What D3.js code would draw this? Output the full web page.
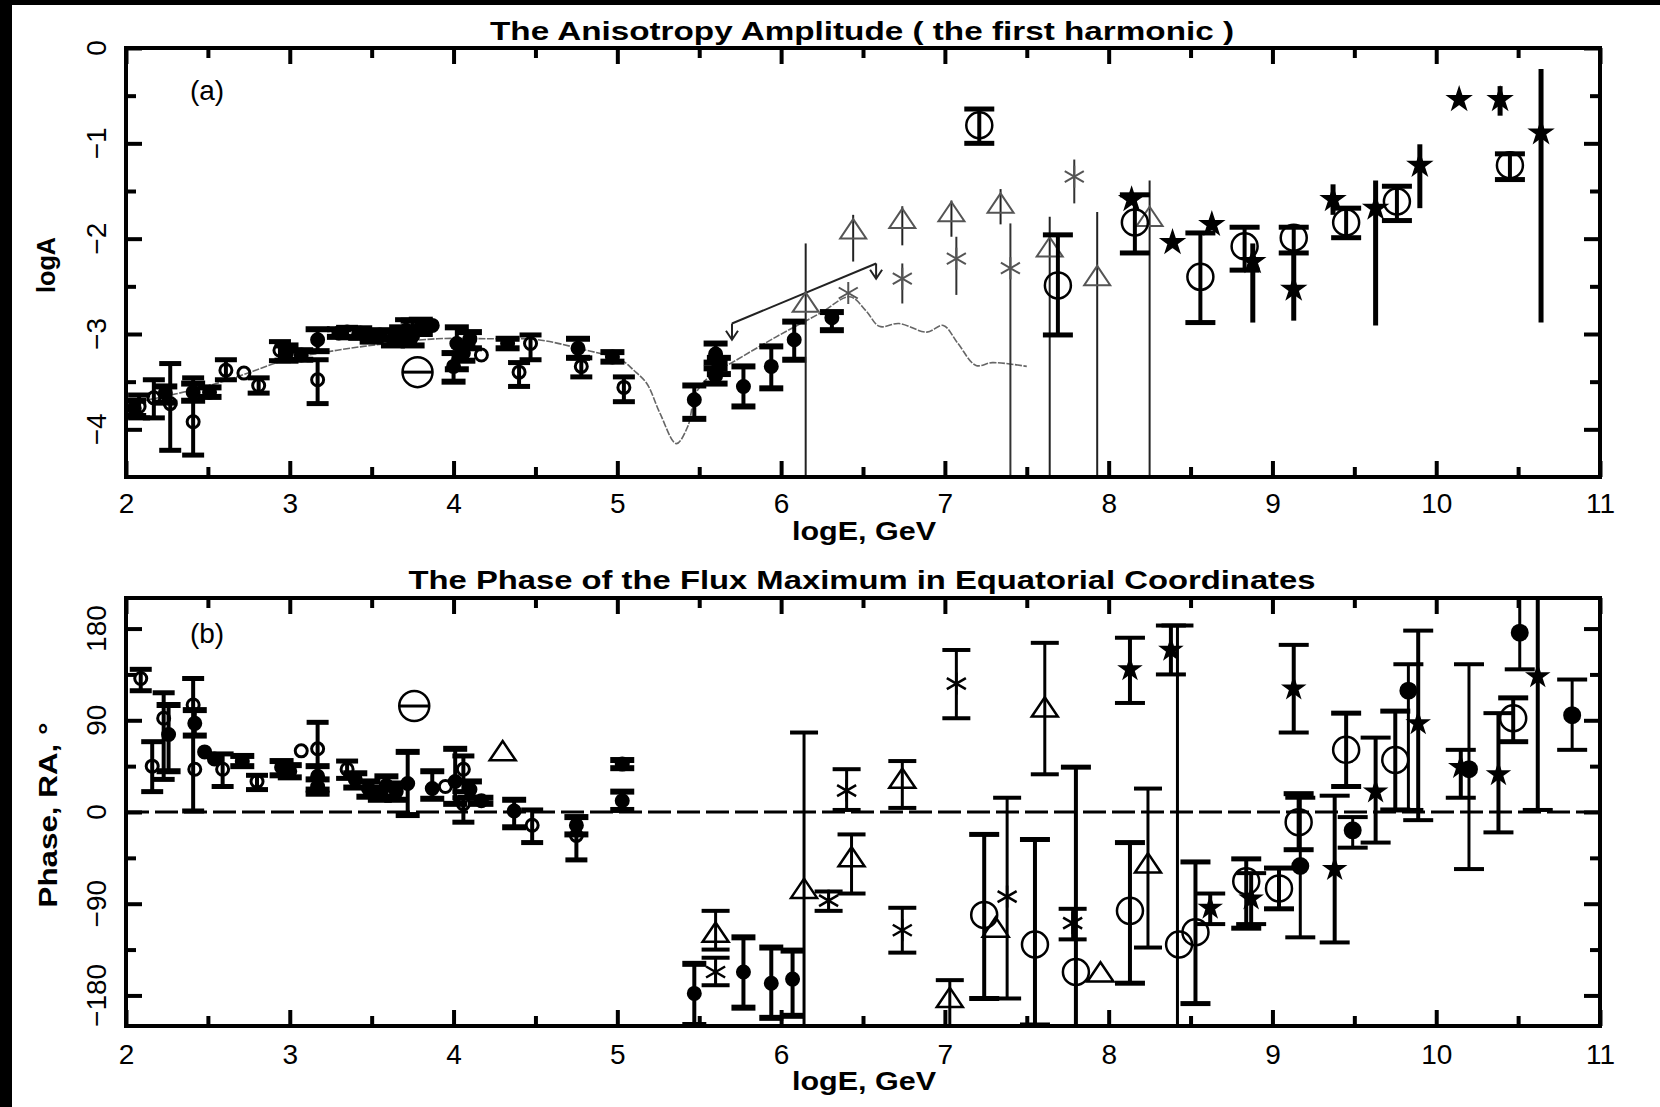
<!DOCTYPE html>
<html><head><meta charset="utf-8">
<script src="https://cdn.jsdelivr.net/npm/d3@7"></script>
<style>body{margin:0;background:#fff;}svg{display:block;}text{font-family:"Liberation Sans",Arial,sans-serif;fill:#000;}</style>
</head><body><svg id="c" width="1660" height="1107"></svg>
<script>
// ---------- axis ticks ----------
const xMajor=[2,3,4,5,6,7,8,9,10,11];
const xMinor=[2.5,3.5,4.5,5.5,6.5,7.5,8.5,9.5,10.5];
const aYMajor=[-4,-3,-2,-1,0];
const aYMinor=[-3.5,-2.5,-1.5,-0.5];
const aYLabels=["−4","−3","−2","−1","0"];
const bYMajor=[-180,-90,0,90,180];
const bYMinor=[-135,-45,45,135];
const bYLabels=["−180","−90","0","90","180"];

// ---------- panel (a): logA vs logE  [logE, logA, upper, lower] ----------
const aSmallOpen=[
 [2.08,-3.76,-3.64,-3.88],[2.17,-3.67,-3.48,-3.88],[2.27,-3.73,-3.31,-4.22],
 [2.41,-3.92,-3.46,-4.27],[2.61,-3.38,-3.27,-3.48],[2.72,-3.41,null,null],
 [2.81,-3.54,-3.46,-3.62],[2.94,-3.17,-3.08,-3.28],[3.17,-3.48,-3.27,-3.73],
 [3.35,-2.98,-2.93,-3.04],[3.71,-2.96,-2.85,-3.10],[4.17,-3.22,null,null],
 [4.47,-3.10,-3.01,-3.27],[4.40,-3.40,-3.30,-3.55],[4.78,-3.34,-3.25,-3.45],
 [5.04,-3.56,-3.45,-3.71]
];
const aSmallFilled=[
 [2.05,-3.78,-3.70,-3.86],[2.24,-3.62,-3.55,-3.72],[2.41,-3.61,-3.52,-3.70],
 [2.51,-3.61,-3.56,-3.66],[2.98,-3.20,-3.12,-3.28],[3.07,-3.22,-3.17,-3.27],
 [3.17,-3.06,-2.95,-3.18],[3.30,-2.99,-2.95,-3.03],[3.43,-2.99,-2.94,-3.04],
 [3.50,-3.02,-2.97,-3.08],[3.55,-3.01,-2.96,-3.06],[3.63,-3.05,-2.97,-3.12],
 [3.68,-3.00,-2.93,-3.08],[3.75,-3.02,-2.86,-3.12],[3.80,-2.93,-2.85,-3.00],
 [3.87,-2.91,null,null],
 [4.02,-3.10,-2.93,-3.37],[4.00,-3.34,-3.20,-3.50],[4.10,-3.05,-2.98,-3.15],
 [4.06,-3.20,-3.12,-3.28],
 [4.33,-3.10,-3.05,-3.15],[4.76,-3.15,-3.05,-3.25],[4.97,-3.24,-3.19,-3.29],
 [5.47,-3.69,-3.54,-3.89],[5.60,-3.21,-3.10,-3.30],[5.62,-3.33,-3.25,-3.42],
 [5.60,-3.44,-3.36,-3.52],[5.77,-3.55,-3.34,-3.76],[5.94,-3.34,-3.13,-3.57],
 [6.08,-3.06,-2.87,-3.27],[6.31,-2.83,-2.77,-2.96]
];
const aBigOpen=[
 [7.21,-0.81,-0.64,-1.00],[7.69,-2.49,-1.96,-3.01],[8.16,-1.83,-1.54,-2.15],
 [8.56,-2.40,-1.94,-2.88],[8.83,-2.08,-1.88,-2.33],[9.13,-1.99,-1.88,-2.15],
 [9.45,-1.83,-1.68,-1.99],[9.76,-1.61,-1.45,-1.81],[10.45,-1.23,-1.11,-1.38]
];
const aThetaCircle=[[3.78,-3.40]];
const aStar=[
 [8.14,-1.59,null,null],[8.39,-2.04,null,null],[8.63,-1.85,null,null],
 [8.88,-2.24,-2.05,-2.88],[9.13,-2.53,-2.13,-2.86],[9.37,-1.59,-1.43,-1.75],
 [9.63,-1.68,-1.39,-2.91],[9.90,-1.23,-1.01,-1.68],[10.14,-0.54,null,null],
 [10.39,-0.54,-0.40,-0.71],[10.64,-0.89,-0.22,-2.88]
];
const aTriangle=[
 [6.15,-2.70,-2.05,-4.5],[6.44,-1.93,-1.75,-2.24],[6.74,-1.82,-1.66,-2.07],
 [7.04,-1.75,-1.60,-1.98],[7.34,-1.66,-1.48,-1.85],[7.64,-2.12,-1.77,-4.5],
 [7.93,-2.42,-1.72,-4.5],[8.25,-1.80,-1.39,-4.5]
];
const aAsterisk=[
 [6.41,-2.57,null,null],[6.74,-2.42,-2.26,-2.68],[7.07,-2.21,-1.98,-2.59],
 [7.40,-2.31,-1.84,-4.5],[7.79,-1.35,-1.17,-1.63]
];
// upper-limit line: [logE, logA, arrow tip]
const aLimit=[[5.70,-2.89,-3.06],[6.58,-2.26,-2.42]];
const aCurve=[
 [2.02,-3.73],[2.30,-3.63],[2.55,-3.52],[2.76,-3.40],[2.98,-3.27],[3.29,-3.17],
 [3.59,-3.10],[3.90,-3.05],[4.20,-3.05],[4.51,-3.06],[4.81,-3.17],[5.02,-3.27],
 [5.10,-3.38],[5.18,-3.52],[5.26,-3.83],[5.36,-4.15],[5.43,-3.97],[5.48,-3.62],
 [5.58,-3.42],[5.71,-3.29],[5.97,-3.03],[6.24,-2.78],[6.42,-2.61],[6.52,-2.76],
 [6.60,-2.92],[6.72,-2.89],[6.89,-2.98],[6.99,-2.91],[7.08,-3.10],[7.19,-3.33],
 [7.29,-3.30],[7.50,-3.34]
];

// ---------- panel (b): phase vs logE  [logE, phase, upper, lower] ----------
const bSmallOpen=[
 [2.09,131,140,119],[2.16,45,69,20],[2.23,92,117,32],[2.41,105,131,1],
 [2.42,42,null,null],[2.59,42,57,25],[2.80,30,36,22],[3.07,60,null,null],
 [3.17,62,88,18],[3.35,42,50,33],[3.95,25,null,null],[4.06,42,55,20],
 [4.06,8,14,-10],[4.48,-13,2,-30],[4.75,-23,-5,-47]
];
const bSmallFilled=[
 [2.26,76,105,40],[2.42,87,100,75],[2.48,59,null,null],[2.54,52,null,null],
 [2.71,50,55,45],[2.95,44,50,36],[3.00,40,46,34],[3.17,35,45,22],
 [3.17,25,32,18],[3.40,32,38,24],[3.48,23,30,15],[3.55,18,24,12],
 [3.59,26,35,15],[3.65,20,28,12],[3.72,28,59,-3],[3.87,23,40,13],
 [4.01,30,62,8],[4.10,22,30,14],[4.17,11,14,8],[4.37,1,12,-15],
 [4.75,-13,-5,-22],[5.03,47,51,43],[5.03,11,20,2],[5.47,-178,-149,-209],
 [5.77,-157,-123,-192],[5.94,-168,-133,-202],[6.07,-164,-136,-200]
];
const bBigOpen=[
 [7.24,-101,-22,-183],[7.55,-130,-27,-209],[7.80,-157,44,-210],
 [8.13,-97,-30,-168],[8.43,-130,null,null],[8.53,-118,-49,-188],
 [8.84,-68,-46,-114],[9.04,-75,-55,-95],[9.16,-10,18,-37],
 [9.45,61,97,25],[9.75,51,99,2],[10.47,92,112,69]
];
const bThetaCircle=[[3.76,104]];
const bTriangle=[
 [4.30,57,null,null],[5.60,-121,-97,-135],[6.14,-78,78,-210],
 [6.43,-47,-22,-80],[6.74,30,50,4],[7.03,-185,-165,-210],
 [7.31,-116,null,null],[7.61,100,166,37],[7.95,-160,null,null],
 [8.24,-53,23,-133]
];
const bAsterisk=[
 [5.60,-157,-143,-170],[6.29,-87,-78,-97],[6.40,21,42,2],
 [6.74,-116,-94,-138],[7.07,126,159,92],[7.38,-83,14,-183],
 [7.78,-109,-95,-125]
];
const bStar=[
 [8.13,140,171,107],[8.38,159,183,135],[8.62,-94,-80,-110],
 [8.87,-85,-60,-110],[9.13,121,164,78],[9.38,-56,16,-128],
 [9.63,20,73,-30],[9.89,87,178,-8],[10.15,44,61,14],
 [10.38,37,97,-20],[10.62,133,210,2]
];
const bDot=[
 [9.17,-53,14,-123],[9.49,-18,-5,-35],[9.83,119,145,2],
 [10.20,42,145,-56],[10.51,176,210,140],[10.83,95,130,61]
];
const bThinBars=[[8.42,183,-210]];
const bZero=[0];

// ---------- layout ----------
const svg=d3.select("#c");
svg.append("rect").attr("width",1660).attr("height",1107).attr("fill","#fff");
svg.append("rect").attr("x",0).attr("y",0).attr("width",12).attr("height",1107).attr("fill","#000");
svg.append("rect").attr("x",0).attr("y",0).attr("width",1660).attr("height",5).attr("fill","#000");

const x=d3.scaleLinear().domain([2,11]).range([126,1600]);
const ya=d3.scaleLinear().domain([-4.5,0]).range([477,48]);
const yb=d3.scaleLinear().domain([-210,210]).range([1026,598]);

const GRAY="#555";

function frameAxes(y,yMaj,yMin,yLab,labelPad){
  const [y0,y1]=y.range();
  const g=svg.append("g");
  const ax=[
    [d3.axisBottom(x).tickValues(xMajor).tickSizeInner(-16),y0],
    [d3.axisBottom(x).tickValues(xMinor).tickSizeInner(-10).tickFormat(""),y0],
    [d3.axisTop(x).tickValues(xMajor).tickSizeInner(-16).tickFormat(""),y1],
    [d3.axisTop(x).tickValues(xMinor).tickSizeInner(-10).tickFormat(""),y1]
  ];
  ax.forEach(([a,ty])=>{
    const s=g.append("g").attr("transform",`translate(0,${ty})`).call(a.tickSizeOuter(0).tickPadding(labelPad));
    s.select(".domain").remove();
    s.selectAll("line").attr("stroke","#000").attr("stroke-width",4);
    s.selectAll("text").attr("font-size",28).attr("font-family","Liberation Sans, Arial, sans-serif").attr("fill","#000");
  });
  const yax=[
    [d3.axisLeft(y).tickValues(yMaj).tickSizeInner(-16),126],
    [d3.axisLeft(y).tickValues(yMin).tickSizeInner(-10),126],
    [d3.axisRight(y).tickValues(yMaj).tickSizeInner(-16),1600],
    [d3.axisRight(y).tickValues(yMin).tickSizeInner(-10),1600]
  ];
  yax.forEach(([a,tx])=>{
    const s=g.append("g").attr("transform",`translate(${tx},0)`).call(a.tickSizeOuter(0).tickFormat(""));
    s.select(".domain").remove();
    s.selectAll("line").attr("stroke","#000").attr("stroke-width",4);
  });
  yMaj.forEach((v,i)=>{
    g.append("text").attr("transform",`translate(96,${y(v)}) rotate(-90)`)
      .attr("text-anchor","middle").attr("dominant-baseline","central")
      .attr("font-size",28).text(yLab[i]);
  });
  svg.append("rect").attr("x",126).attr("y",y1).attr("width",1600-126).attr("height",y0-y1)
    .attr("fill","none").attr("stroke","#000").attr("stroke-width",4);
}

function bars(g,data,y,o){
  const [dmin,dmax]=y.domain();
  data.forEach(d=>{
    if(d[2]==null) return;
    const cx=x(d[0]);
    g.append("line").attr("x1",cx).attr("x2",cx).attr("y1",y(Math.min(d[2],dmax))).attr("y2",y(Math.max(d[3],dmin)))
      .attr("stroke",o.color).attr("stroke-width",o.bw);
    if(o.cap){
      [d[2],d[3]].forEach(v=>{
        if(v<=dmin||v>=dmax) return;
        g.append("line").attr("x1",cx-o.cap/2).attr("x2",cx+o.cap/2).attr("y1",y(v)).attr("y2",y(v))
          .attr("stroke",o.color).attr("stroke-width",o.cw||4);
      });
    }
  });
}

function markers(g,data,y,type,o){
  data.forEach(d=>{
    const cx=x(d[0]),cy=y(d[1]);
    const c=o.color||"#000";
    if(type==="circle"){
      g.append("circle").attr("cx",cx).attr("cy",cy).attr("r",o.r)
        .attr("fill",o.fill?c:"none").attr("stroke",c).attr("stroke-width",o.sw||2);
    } else if(type==="theta"){
      g.append("circle").attr("cx",cx).attr("cy",cy).attr("r",o.r).attr("fill","none").attr("stroke",c).attr("stroke-width",2.5);
      g.append("line").attr("x1",cx-o.r).attr("x2",cx+o.r).attr("y1",cy).attr("y2",cy).attr("stroke",c).attr("stroke-width",3);
    } else if(type==="star"){
      g.append("path").attr("d",d3.symbol(d3.symbolStar,o.r*o.r/0.8908)()).attr("transform",`translate(${cx},${cy})`)
        .attr("fill",c).attr("stroke",c).attr("stroke-width",1.5);
    } else if(type==="triangle"){
      const w=o.r, h=o.r*0.9;
      g.append("path").attr("d",`M${cx-w},${cy+h*0.55}L${cx+w},${cy+h*0.55}L${cx},${cy-h*1.1}Z`)
        .attr("fill","none").attr("stroke",c).attr("stroke-width",o.sw||2);
    } else if(type==="asterisk"){
      [90,30,150].forEach(a=>{
        const r=o.r, dx=r*Math.cos(a*Math.PI/180), dy=r*Math.sin(a*Math.PI/180);
        g.append("line").attr("x1",cx-dx).attr("x2",cx+dx).attr("y1",cy-dy).attr("y2",cy+dy)
          .attr("stroke",c).attr("stroke-width",o.sw||2);
      });
    }
  });
}

// ---------- panel (a) ----------
const defs=svg.append("defs");
defs.append("clipPath").attr("id","clipA").append("rect").attr("x",126).attr("y",48).attr("width",1474).attr("height",429);
const ga=svg.append("g").attr("clip-path","url(#clipA)");
ga.append("path").datum(aCurve).attr("d",d3.line().x(d=>x(d[0])).y(d=>ya(d[1])).curve(d3.curveCatmullRom))
  .attr("fill","none").attr("stroke","#666").attr("stroke-width",1.6).attr("stroke-dasharray","7,1.5");

bars(ga,aSmallOpen,ya,{color:"#000",bw:4,cap:22,cw:5});
bars(ga,aSmallFilled,ya,{color:"#000",bw:4,cap:24,cw:6});
markers(ga,aSmallOpen,ya,"circle",{r:6,sw:3});
markers(ga,aSmallFilled,ya,"circle",{r:6.5,fill:true});
markers(ga,aThetaCircle,ya,"theta",{r:15});

// limit line with arrows
ga.append("path").datum(aLimit).attr("d",d3.line().x(d=>x(d[0])).y(d=>ya(d[1])))
  .attr("fill","none").attr("stroke","#222").attr("stroke-width",2);
aLimit.forEach(d=>{
  const cx=x(d[0]);
  ga.append("line").attr("x1",cx).attr("x2",cx).attr("y1",ya(d[1])).attr("y2",ya(d[2])).attr("stroke","#222").attr("stroke-width",2);
  ga.append("path").attr("d",`M${cx-6},${ya(d[2])-9}L${cx},${ya(d[2])}L${cx+6},${ya(d[2])-9}`).attr("fill","none").attr("stroke","#222").attr("stroke-width",2);
});

bars(ga,aTriangle,ya,{color:"#222",bw:2});
bars(ga,aAsterisk,ya,{color:"#333",bw:2});
markers(ga,aTriangle,ya,"triangle",{r:13,color:GRAY,sw:2});
markers(ga,aAsterisk,ya,"asterisk",{r:11,color:GRAY,sw:2});

bars(ga,aBigOpen,ya,{color:"#000",bw:4,cap:30,cw:5});
markers(ga,aBigOpen,ya,"circle",{r:13,sw:2.5});
bars(ga,aStar,ya,{color:"#000",bw:5});
markers(ga,aStar,ya,"star",{r:12});

frameAxes(ya,aYMajor,aYMinor,aYLabels,16);

// ---------- panel (b) ----------
defs.append("clipPath").attr("id","clipB").append("rect").attr("x",126).attr("y",598).attr("width",1474).attr("height",428);
const gb=svg.append("g").attr("clip-path","url(#clipB)");
bZero.forEach(v=>{
  gb.append("line").attr("x1",x(2)).attr("x2",x(11)).attr("y1",yb(v)).attr("y2",yb(v))
    .attr("stroke","#000").attr("stroke-width",3).attr("stroke-dasharray","23,6");
});
bars(gb,bSmallOpen,yb,{color:"#000",bw:4,cap:22,cw:5});
bars(gb,bSmallFilled,yb,{color:"#000",bw:4,cap:24,cw:6});
markers(gb,bSmallOpen,yb,"circle",{r:6,sw:3});
markers(gb,bSmallFilled,yb,"circle",{r:6.5,fill:true});
markers(gb,bThetaCircle,yb,"theta",{r:15});

bThinBars.forEach(d=>{
  gb.append("line").attr("x1",x(d[0])).attr("x2",x(d[0])).attr("y1",yb(d[1])).attr("y2",yb(d[2])).attr("stroke","#000").attr("stroke-width",3);
  gb.append("line").attr("x1",x(d[0])-16).attr("x2",x(d[0])+16).attr("y1",yb(d[1])).attr("y2",yb(d[1])).attr("stroke","#000").attr("stroke-width",4);
});
bars(gb,bTriangle,yb,{color:"#000",bw:3,cap:28});
bars(gb,bAsterisk,yb,{color:"#000",bw:3,cap:28});
bars(gb,bBigOpen,yb,{color:"#000",bw:4,cap:30,cw:5});
bars(gb,bStar,yb,{color:"#000",bw:4,cap:30});
bars(gb,bDot,yb,{color:"#000",bw:3,cap:30});
markers(gb,bTriangle,yb,"triangle",{r:13,sw:2.5});
markers(gb,bAsterisk,yb,"asterisk",{r:11,sw:2.5});
markers(gb,bBigOpen,yb,"circle",{r:13,sw:2.5});
markers(gb,bStar,yb,"star",{r:11});
markers(gb,bDot,yb,"circle",{r:8,fill:true});

frameAxes(yb,bYMajor,bYMinor,bYLabels,18);

// ---------- texts ----------
function txt(t,xx,yy,size,opts={}){
  const e=svg.append("text").attr("x",xx).attr("y",yy).attr("font-size",size).attr("text-anchor","middle")
    .attr("font-weight",opts.bold?"bold":"normal").text(t);
  if(opts.len) e.attr("textLength",opts.len).attr("lengthAdjust","spacingAndGlyphs");
  if(opts.rot) e.attr("transform",`rotate(-90,${xx},${yy})`);
  return e;
}
txt("The Anisotropy Amplitude ( the first harmonic )",862,40,25,{bold:true,len:744});
txt("The Phase of the Flux Maximum in Equatorial Coordinates",862,589,25,{bold:true,len:907});
txt("logE, GeV",864,540,26,{bold:true,len:144});
txt("logE, GeV",864,1090,26,{bold:true,len:144});
txt("logA",55,265,26,{bold:true,rot:true,len:56});
txt("Phase, RA, °",57,815,26,{bold:true,rot:true,len:185});
txt("(a)",207,100,28);
txt("(b)",207,643,28);
</script></body></html>
